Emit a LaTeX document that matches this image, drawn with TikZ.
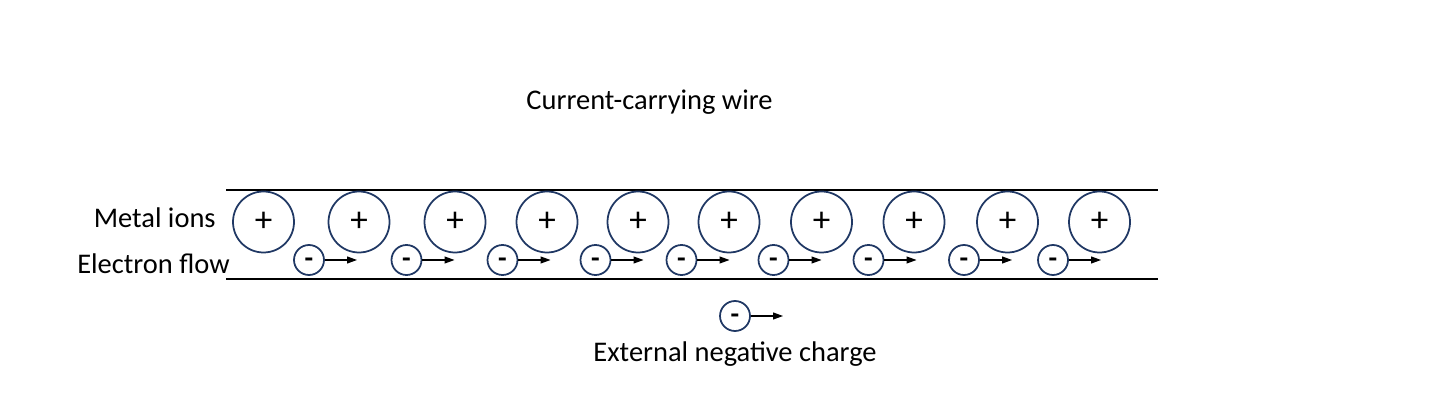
\documentclass[tikz,border=0pt]{standalone}
\usepackage{fontspec}
\setmainfont{Carlito}
\usepackage{tikz}
\usetikzlibrary{arrows.meta}
\definecolor{ionblue}{HTML}{203864}
\def\electron(#1)(#2)% Syntax: (name) (centre) -- electron with its drift arrow
{ \node[electron] (#1) at (#2) {-};
  \coordinate (#1tip) at ([xshift=0.96cm]#1.center);
  \draw[flow] (#1) -- (#1tip); }

\begin{document}
\begin{tikzpicture}[
	ion/.style={circle,draw=ionblue,line width=1pt,minimum size=1.22cm,inner sep=0pt,font=\fontsize{20}{24}\selectfont},
	electron/.style={circle,draw=ionblue,line width=1pt,minimum size=0.6cm,inner sep=0pt,text height=8.4pt,text depth=0pt,font=\fontsize{16}{19}\selectfont\bfseries},
	flow/.style={-{Triangle[length=2mm,width=1.4mm]},line width=0.6pt},
	label/.style={font=\fontsize{16.2}{19}\selectfont,inner sep=0pt}]
	\useasboundingbox (0,0) rectangle (29.02,-8.24);
	%\draw[very thin,red] (0,0) rectangle (29.02,-8.24);	%for calibrating the size

	%wire
	\coordinate (wtl) at (4.52,-3.80);
	\coordinate (wtr) at (23.16,-3.80);
	\coordinate (wbl) at (4.52,-5.58);
	\coordinate (wbr) at (23.16,-5.58);
	\draw[line width=0.6pt] (wtl) -- (wtr);	%top edge
	\draw[line width=0.6pt] (wbl) -- (wbr);	%bottom edge

	%metal ions
	\node[ion] (ion1) at (5.27,-4.44) {+};
	\node[ion] (ion2) at (7.18,-4.44) {+};
	\node[ion] (ion3) at (9.10,-4.44) {+};
	\node[ion] (ion4) at (10.94,-4.44) {+};
	\node[ion] (ion5) at (12.76,-4.44) {+};
	\node[ion] (ion6) at (14.58,-4.44) {+};
	\node[ion] (ion7) at (16.43,-4.44) {+};
	\node[ion] (ion8) at (18.28,-4.44) {+};
	\node[ion] (ion9) at (20.15,-4.44) {+};
	\node[ion] (ion10) at (21.99,-4.44) {+};

	%electrons
	\electron(el1)(6.18,-5.20)
	\electron(el2)(8.13,-5.20)
	\electron(el3)(10.05,-5.20)
	\electron(el4)(11.91,-5.20)
	\electron(el5)(13.63,-5.20)
	\electron(el6)(15.47,-5.20)
	\electron(el7)(17.37,-5.20)
	\electron(el8)(19.28,-5.20)
	\electron(el9)(21.06,-5.20)
	\electron(ext)(14.70,-6.32)	%outside the wire

	\node[label] (title) at (12.99,-2.04) {Current-carrying wire};
	\node[label,anchor=east] (ions) at (4.32,-4.36) {Metal ions};
	\node[label,anchor=east] (flowtxt) at (4.60,-5.28) {Electron flow};
	\node[label] (extcharge) at (14.70,-7.08) {External negative charge};
\end{tikzpicture}
\end{document}
